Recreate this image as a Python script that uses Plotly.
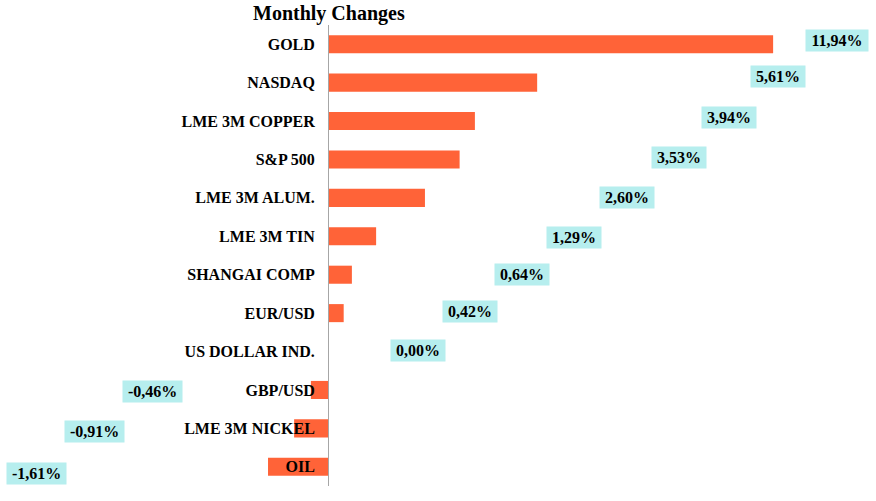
import plotly.graph_objects as go

categories = ["GOLD", "NASDAQ", "LME 3M COPPER", "S&P 500", "LME 3M ALUM.", "LME 3M TIN",
              "SHANGAI COMP", "EUR/USD", "US DOLLAR IND.", "GBP/USD", "LME 3M NICKEL", "OIL"]
values = [11.94, 5.61, 3.94, 3.53, 2.60, 1.29, 0.64, 0.42, 0.00, -0.46, -0.91, -1.61]
label_texts = ["11,94%", "5,61%", "3,94%", "3,53%", "2,60%", "1,29%", "0,64%", "0,42%",
               "0,00%", "-0,46%", "-0,91%", "-1,61%"]
# placement of each value label, as in the original layout (x in data units, y shift in px)
label_x = [13.66, 12.07, 10.76, 9.42, 8.02, 6.60, 5.21, 3.82, 2.40, -4.71, -6.27, -7.81]
label_dy = [4, 6, 4, 2, 0, -1, 0, 2, 1, -2, -3.5, -7]

BAR_COLOR = "#FF6338"
LABEL_BG = "#B6EEEE"
FONT = "Liberation Serif, Times New Roman, serif"
W, H = 876, 501
XMIN, XMAX = -8.80, 14.70

fig = go.Figure()
fig.add_trace(go.Bar(
    x=values, y=categories, orientation="h",
    marker=dict(color=BAR_COLOR, line=dict(width=0)),
    hoverinfo="skip",
))

char_em = {",": 0.25, "%": 1.0, "-": 0.333}
def text_w(t, size):
    return sum(char_em.get(c, 0.5) for c in t) * size

LBL_SIZE = 16
for cat, t, lx, dy in zip(categories, label_texts, label_x, label_dy):
    fig.add_annotation(
        x=lx, y=cat, xref="x", yref="y", text="<b>%s</b>" % t, showarrow=False,
        font=dict(family=FONT, size=LBL_SIZE, color="#000000"),
        bgcolor=LABEL_BG, borderpad=1, width=text_w(t, LBL_SIZE) + 8, height=19,
        xanchor="center", yanchor="middle", yshift=dy,
    )

fig.add_annotation(
    text="<b>Monthly Changes</b>", x=329 / W, y=1, xref="paper", yref="paper",
    xanchor="center", yanchor="top", yshift=25, showarrow=False,
    font=dict(family=FONT, size=20, color="#000000"),
)

fig.update_layout(
    width=W, height=H,
    margin=dict(l=0, r=0, t=25, b=15),
    paper_bgcolor="white", plot_bgcolor="white",
    bargap=0.53, showlegend=False,
    xaxis=dict(range=[XMIN, XMAX], visible=False, showgrid=False, zeroline=False),
    yaxis=dict(
        type="category", categoryorder="array", categoryarray=categories,
        range=[len(categories) - 0.5, -0.5],
        anchor="free", position=(0 - XMIN) / (XMAX - XMIN),
        showline=True, linecolor="#A6A6A6", linewidth=1,
        ticks="", showgrid=False, zeroline=False, ticklabelstandoff=10,
        tickfont=dict(family=FONT, size=16, color="#000000"),
        tickprefix="<b>", ticksuffix="</b>",
    ),
)
# remove the browser's default 8px page margin so the figure fills the window exactly
fig.write_html("out.html", config={"displayModeBar": False},
               post_script="document.body.style.margin='0px';")
